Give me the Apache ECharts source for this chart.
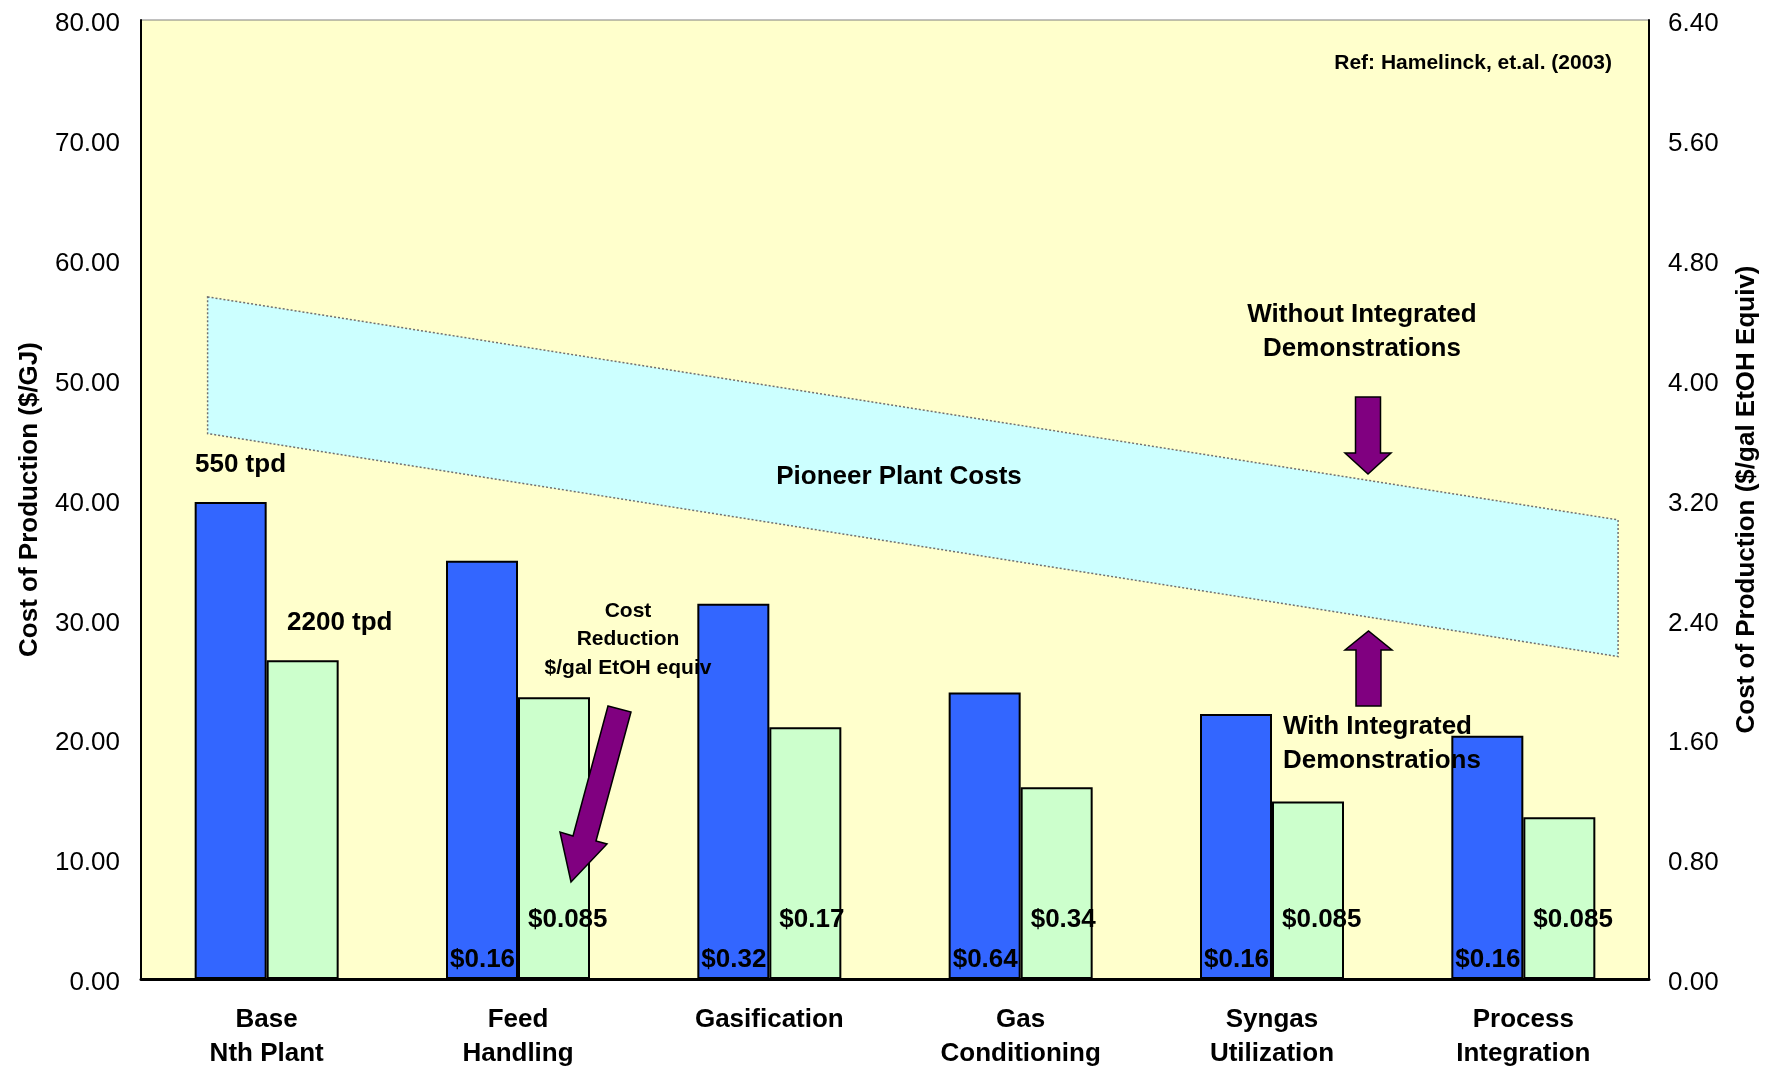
<!DOCTYPE html>
<html>
<head>
<meta charset="utf-8">
<script src="https://cdn.jsdelivr.net/npm/echarts@6/dist/echarts.min.js"></script>
<style>
  html, body { margin: 0; padding: 0; background: #fff; }
  #chart { width: 1765px; height: 1067px; }
</style>
</head>
<body>
<div id="chart"></div>
<script>
// chart values
const categories = ['Base\nNth Plant', 'Feed\nHandling', 'Gasification', 'Gas\nConditioning', 'Syngas\nUtilization', 'Process\nIntegration'];
const plant550 = [39.8, 34.9, 31.3, 23.9, 22.1, 20.3];
const plant2200 = [26.6, 23.5, 21.0, 16.0, 14.8, 13.5];
const saving550 = ['', '$0.16', '$0.32', '$0.64', '$0.16', '$0.16'];
const saving2200 = ['', '$0.085', '$0.17', '$0.34', '$0.085', '$0.085'];

// pioneer plant band (x in category units 0..6, y in $/GJ)
const bandX = [0.265, 5.877];
const bandLow = [45.5, 26.9];
const bandHigh = [56.9, 38.3];

const FONT = "'Liberation Sans', Arial, sans-serif";

var myChart = echarts.init(document.getElementById('chart'));

function txt(text, x, y, size, align) {
  return {
    type: 'text', z: 100,
    style: {
      text: text, x: x, y: y, fill: '#000',
      fontFamily: FONT, fontSize: size, fontWeight: 'bold',
      textAlign: align || 'center', textVerticalAlign: 'middle'
    }
  };
}

function arrow(points) {
  return {
    type: 'polygon', z: 90,
    shape: { points: points },
    style: { fill: '#800080', stroke: '#000', lineWidth: 1.5 }
  };
}

let option = {
  backgroundColor: '#fff',
  textStyle: { fontFamily: FONT, color: '#000' },
  grid: {
    left: 141, right: 116, top: 20, bottom: 88,
    outerBoundsMode: 'none',
    containLabel: false,
    show: true,
    backgroundColor: '#FFFFCC',
    borderColor: '#808080',
    borderWidth: 1
  },
  xAxis: [
    {
      type: 'category',
      data: categories,
      axisLine: { lineStyle: { color: '#000', width: 3 } },
      axisTick: { show: false },
      axisLabel: {
        fontSize: 26, fontWeight: 'bold', color: '#000', lineHeight: 34, margin: 24
      }
    },
    { type: 'value', min: 0, max: 6, show: false }
  ],
  yAxis: [
    {
      type: 'value', min: 0, max: 80, interval: 10,
      name: 'Cost of Production ($/GJ)',
      nameLocation: 'middle', nameRotate: 90, nameGap: 98,
      nameTextStyle: { fontSize: 26, fontWeight: 'bold', color: '#000' },
      axisLine: { show: true, lineStyle: { color: '#000', width: 2 } },
      axisTick: { show: false },
      splitLine: { show: false },
      axisLabel: {
        fontSize: 26, color: '#000', margin: 21,
        verticalAlign: 'top', lineHeight: 8,
        formatter: (v) => v.toFixed(2)
      }
    },
    {
      type: 'value', min: 0, max: 6.4, interval: 0.8,
      position: 'right',
      name: 'Cost of Production ($/gal EtOH Equiv)',
      nameLocation: 'middle', nameRotate: 90, nameGap: 85,
      nameTextStyle: { fontSize: 26, fontWeight: 'bold', color: '#000' },
      axisLine: { show: true, lineStyle: { color: '#000', width: 2 } },
      axisTick: { show: false },
      splitLine: { show: false },
      axisLabel: {
        fontSize: 26, color: '#000', margin: 19,
        verticalAlign: 'top', lineHeight: 8,
        formatter: (v) => v.toFixed(2)
      }
    }
  ],
  series: [
    {
      name: 'Pioneer Plant Costs',
      type: 'custom',
      xAxisIndex: 1,
      yAxisIndex: 0,
      silent: true,
      z: 1,
      data: [[bandX[0], bandLow[0]]],
      renderItem: function (params, api) {
        const pts = [];
        for (let i = 0; i < bandX.length; i++) pts.push(api.coord([bandX[i], bandHigh[i]]));
        for (let i = bandX.length - 1; i >= 0; i--) pts.push(api.coord([bandX[i], bandLow[i]]));
        return {
          type: 'polygon',
          shape: { points: pts },
          style: { fill: '#CCFFFF', stroke: '#707070', lineWidth: 1.5, lineDash: [2, 2] }
        };
      }
    },
    {
      name: '550 tpd',
      type: 'bar',
      barWidth: 72,
      barGap: '0%',
      z: 3,
      data: plant550,
      itemStyle: { color: '#3366FF', borderColor: '#000', borderWidth: 2 },
      label: {
        show: true, position: 'insideBottomLeft', distance: 4, offset: [0, -2],
        fontSize: 26, fontWeight: 'bold', color: '#000',
        formatter: (p) => saving550[p.dataIndex]
      }
    },
    {
      name: '2200 tpd',
      type: 'bar',
      barWidth: 72,
      z: 3,
      data: plant2200,
      itemStyle: { color: '#CCFFCC', borderColor: '#000', borderWidth: 2 },
      label: {
        show: true, position: 'insideBottomLeft', distance: 8, offset: [2, -38],
        fontSize: 26, fontWeight: 'bold', color: '#000',
        formatter: (p) => saving2200[p.dataIndex]
      }
    }
  ],
  graphic: [
    txt('Ref: Hamelinck, et.al. (2003)', 1612, 63, 21, 'right'),
    txt('550 tpd', 195, 465, 26, 'left'),
    txt('2200 tpd', 287, 623, 26, 'left'),
    txt('Pioneer Plant Costs', 899, 477, 26),
    txt('Without Integrated', 1362, 315, 26),
    txt('Demonstrations', 1362, 349, 26),
    txt('With Integrated', 1283, 727, 26, 'left'),
    txt('Demonstrations', 1283, 761, 26, 'left'),
    txt('Cost', 628, 611, 21),
    txt('Reduction', 628, 639, 21),
    txt('$/gal EtOH equiv', 628, 668, 21),
    arrow([[1355.5, 397], [1380.5, 397], [1380.5, 453], [1391, 453], [1368, 474], [1345, 453], [1355.5, 453]]),
    arrow([[1356, 706], [1381, 706], [1381, 650], [1392, 650], [1368.5, 631], [1345, 650], [1356, 650]]),
    arrow([[608, 706], [631, 712], [596, 841], [607, 844], [571, 882], [560, 832], [573, 836]])
  ]
};

myChart.setOption(option);
</script>
</body>
</html>
